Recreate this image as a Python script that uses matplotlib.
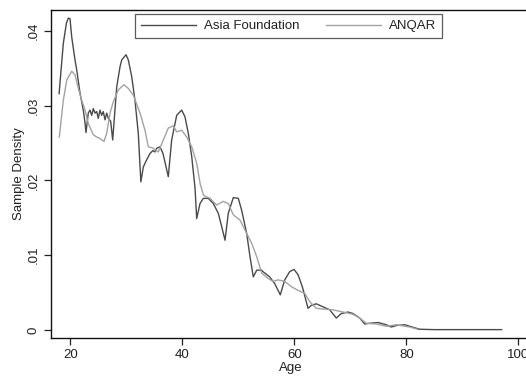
import matplotlib
matplotlib.use("Agg")
import matplotlib.pyplot as plt
from matplotlib.ticker import FixedLocator

plt.rcParams['font.family'] = ['Liberation Sans', 'DejaVu Sans']

# Asia Foundation (dark line)
af_age = [18.0, 18.75, 19.3, 19.64, 19.95, 20.25, 20.84, 21.14, 21.73, 22.32, 22.63, 22.8,
          23.21, 23.52, 23.82, 24.11, 24.41, 24.71, 25.0, 25.3, 25.6, 25.89, 26.2, 26.5,
          26.79, 27.21, 27.57, 28.29, 28.88, 29.18, 29.95, 30.36, 30.96, 31.55, 32.14,
          32.6, 33.04, 33.6, 34.23, 34.77, 35.1, 35.43, 36.02, 36.55, 37.5, 38.1, 39.0,
          39.89, 40.48, 41.07, 41.68, 42.27, 42.57, 43.16, 43.75, 44.64, 45.54, 46.43,
          47.04, 47.63, 48.21, 49.11, 50.0, 50.6, 51.5, 52.09, 52.68, 53.29, 54.18, 54.41,
          55.6, 56.5, 57.5, 58.29, 59.18, 59.95, 60.66, 61.43, 62.45, 63.04, 63.93, 65.13,
          66.32, 67.5, 68.39, 69.59, 70.48, 71.68, 72.57, 73.46, 74.95, 76.43, 77.32,
          78.21, 79.71, 80.61, 82.39, 85.0, 90.0, 97.0]
af_val = [0.0316, 0.0383, 0.0410, 0.0417, 0.0416, 0.0392, 0.0361, 0.0348, 0.0317, 0.0294, 0.0277, 0.0264,
          0.0290, 0.0294, 0.0287, 0.0296, 0.0290, 0.0292, 0.0283, 0.0294, 0.0287, 0.0292, 0.0281, 0.0290,
          0.0283, 0.0279, 0.0254, 0.0325, 0.0352, 0.0361, 0.0368, 0.0361, 0.0339, 0.0307, 0.0263,
          0.0198, 0.0218, 0.0227, 0.0236, 0.0240, 0.0238, 0.0243, 0.0245, 0.0236, 0.0205, 0.0254, 0.0287,
          0.0294, 0.0285, 0.0263, 0.0232, 0.0190, 0.0149, 0.0169, 0.0176, 0.0176, 0.0169, 0.0156,
          0.0138, 0.0120, 0.0156, 0.0177, 0.0176, 0.0160, 0.0129, 0.0098, 0.0071, 0.0080, 0.0080, 0.0078,
          0.0071, 0.0062, 0.0047, 0.0067, 0.0078, 0.0081, 0.0074, 0.0058, 0.0029, 0.0033, 0.0035, 0.0031,
          0.0027, 0.0016, 0.0022, 0.0024, 0.0022, 0.0016, 0.0008, 0.0009, 0.0010, 0.0007, 0.0004,
          0.0006, 0.0007, 0.0005, 0.0001, 0.00005, 0.00005, 0.00005]

# ANQAR (light line)
aq_age = [18.04, 18.75, 19.36, 20.25, 20.84, 21.43, 22.04, 22.63, 23.21, 24.11, 24.71, 25.3,
          26.02, 26.5, 27.09, 27.68, 28.57, 29.59, 30.36, 31.25, 32.45, 33.34, 33.93, 34.82,
          35.71, 36.61, 37.5, 38.39, 39.0, 39.89, 40.79, 41.68, 42.57, 43.2, 43.8, 44.95,
          46.14, 47.32, 48.21, 49.11, 50.3, 51.5, 52.39, 53.29, 54.18, 55.3, 56.2, 57.09,
          58.29, 59.46, 60.66, 61.86, 62.75, 63.93, 65.13, 66.91, 68.7, 70.48, 71.68, 72.86,
          74.64, 76.43, 78.21, 79.71, 80.61, 82.0]
aq_val = [0.0258, 0.0307, 0.0334, 0.0346, 0.0341, 0.0323, 0.0307, 0.0294, 0.0276, 0.0261, 0.0258, 0.0256,
          0.0252, 0.0263, 0.0290, 0.0305, 0.0321, 0.0328, 0.0323, 0.0314, 0.0290, 0.0267, 0.0245, 0.0243,
          0.0238, 0.0254, 0.0270, 0.0273, 0.0265, 0.0267, 0.0258, 0.0245, 0.0223, 0.0195, 0.0180, 0.0176,
          0.0167, 0.0172, 0.0169, 0.0154, 0.0147, 0.0129, 0.0116, 0.0098, 0.0076, 0.0069, 0.0065, 0.0067,
          0.0065, 0.0058, 0.0053, 0.0049, 0.0038, 0.0029, 0.0028, 0.0027, 0.0024, 0.0021, 0.0016, 0.0009,
          0.0008, 0.0005, 0.0007, 0.0005, 0.0004, 0.0001]

x_ticks = [20, 40, 60, 80, 100]
y_ticks = [0, 0.01, 0.02, 0.03, 0.04]
y_tick_labels = ["0", ".01", ".02", ".03", ".04"]

W, H = 526, 377
fig = plt.figure(figsize=(W / 100, H / 100), dpi=100)
left_px, right_px, top_px, bottom_px = 51, 531, 10, 338
ax = fig.add_axes([left_px / W, 1 - bottom_px / H,
                   (right_px - left_px) / W, (bottom_px - top_px) / H])

ax.plot(af_age, af_val, color='#4a4a4a', lw=1.0, label='Asia Foundation')
ax.plot(aq_age, aq_val, color='#a3a3a3', lw=1.0, label='ANQAR')

# px mapping: age 20 -> 70.3, 5.6 px/yr ; value 0 -> 330, 7480 px/unit
ax.set_xlim(20 + (left_px - 70.3) / 5.6, 20 + (right_px - 70.3) / 5.6)
ax.set_ylim((330 - bottom_px) / 7480, (330 - top_px) / 7480)

ax.xaxis.set_major_locator(FixedLocator(x_ticks))
ax.set_xticklabels([str(t) for t in x_ticks])
ax.yaxis.set_major_locator(FixedLocator(y_ticks))
ax.set_yticklabels(y_tick_labels, rotation=90, va='center')

ax.tick_params(axis='both', direction='out', length=5, width=0.9, labelsize=9.5,
               color='#222222', labelcolor='#222222', pad=3)
for s in ax.spines.values():
    s.set_linewidth(1.0)
    s.set_color('#111111')

ax.set_xlabel('Age', fontsize=9.5, color='#222222', labelpad=1)
ax.set_ylabel('Sample Density', fontsize=9.5, color='#222222', labelpad=2)

leg = fig.legend(loc='upper center', bbox_to_anchor=(288.5 / W, 1 - 14 / H), ncol=2,
                 fontsize=9.5, frameon=True, fancybox=False, handlelength=4.2,
                 handletextpad=0.6, columnspacing=2.0, borderpad=0.45, borderaxespad=0)
leg.get_frame().set_edgecolor('#333333')
leg.get_frame().set_linewidth(0.9)
for t in leg.get_texts():
    t.set_color('#222222')

fig.savefig('out.png', dpi=100)
